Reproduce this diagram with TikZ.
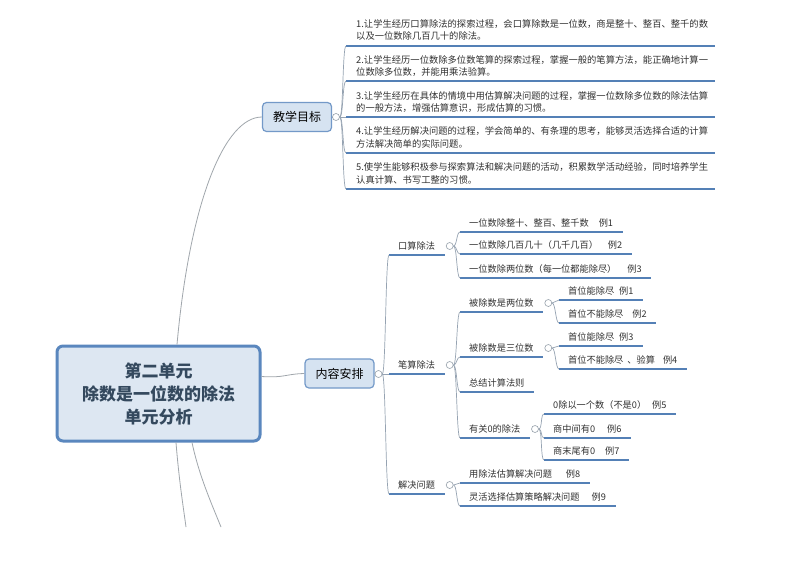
\documentclass[tikz,border=0pt]{standalone}
\usepackage{fontspec}
\setmainfont{Noto Sans CJK SC}
\usetikzlibrary{calc}
\definecolor{ulblue}{RGB}{84,128,182}
\definecolor{conncol}{RGB}{150,163,178}
\definecolor{maincol}{RGB}{160,166,172}
\definecolor{txt}{RGB}{50,50,50}
\definecolor{ctrtxt}{RGB}{52,73,94}
\definecolor{ctrfill}{RGB}{221,231,242}
\definecolor{ctrline}{RGB}{90,135,190}
\definecolor{subfill}{RGB}{214,227,241}
\definecolor{subline}{RGB}{115,153,200}
\definecolor{circcol}{RGB}{150,160,170}
\tikzset{
  ul/.style={draw=ulblue,line width=1.6pt},
  conn/.style={draw=conncol,line width=0.7pt},
  mainconn/.style={draw=maincol,line width=0.8pt},
  circ/.style={circle,draw=circcol,fill=white,line width=0.6pt,minimum size=7pt,inner sep=0pt},
  topic/.style={anchor=south west,inner sep=0pt,text height=7pt,text depth=5pt,
    font=\fontsize{9.2}{11}\selectfont,text=txt},
  item/.style={anchor=west,align=left,inner sep=0pt,font=\fontsize{9.3}{12.5}\selectfont,text=txt},
  subbox/.style={draw=subline,fill=subfill,line width=1.2pt,rounded corners=4pt,
    minimum width=69pt,minimum height=29pt,inner sep=0pt,font=\fontsize{12}{14}\selectfont,text={RGB:red,64;green,64;blue,64}},
  centerbox/.style={draw=ctrline,fill=ctrfill,line width=3pt,rounded corners=6pt,
    minimum width=203pt,minimum height=95pt,inner sep=0pt,align=center,
    font=\bfseries\fontsize{17}{23}\selectfont,text=ctrtxt}
}
\newcommand\mmtopic[4]{%
  \node[topic] (#1) at (#2,#3) {#4};
  \coordinate (#1-l) at ($(#1.south west)+(-9,0)$);
  \coordinate (#1-r) at ($(#1.south east)+(9.5,0)$);
  \draw[ul] (#1-l) -- (#1-r);
}
\newcommand\mmfold[1]{\node[circ] (#1-c) at ($(#1-r)+(5,-9)$) {};}
\newcommand\mmlink[2]{\draw[conn] (#1-c.east) .. controls +(3.5,0) and +(-3.5,0) .. (#2-l);}
\newcommand\mmitem[4]{%
  \node[item] (#1) at (356,#2) {#4};
  \coordinate (#1-l) at (346,#3);
  \coordinate (#1-r) at (715,#3);
  \draw[ul] (#1-l) -- (#1-r);
}
\begin{document}
\begin{tikzpicture}[x=1pt,y=-1pt]
\useasboundingbox[fill=white] (0,0) rectangle (800,566);

% central topic
\node[centerbox] (ctr) at (158.5,393.5) {第二单元\\除数是一位数的除法\\单元分析};

% main branches
\node[subbox] (jx) at (297,117) {教学目标};
\node[subbox] (nr) at (339.5,373.5) {内容安排};
\draw[mainconn] ($(ctr.north)+(18.5,0)$) .. controls (190,200) and (225,117) .. (jx.west);
\draw[mainconn] ($(ctr.north east)+(0,32)$) .. controls (285,378) and (285,374) .. (nr.west);
\coordinate (endA) at (186,527);
\coordinate (endB) at (221,527);
\draw[mainconn] ($(ctr.south)+(17.5,0)$) .. controls (179,480) and (183,505) .. (endA);
\draw[mainconn] ($(ctr.south)+(33.5,0)$) .. controls (199,475) and (210,500) .. (endB);

% 教学目标
\node[circ] (jx-c) at (336,117) {};
\draw[conn] (jx.east) -- (jx-c.west);
\mmitem{i1}{30}{46}{1.让学生经历口算除法的探索过程，会口算除数是一位数，商是整十、整百、整千的数\\以及一位数除几百几十的除法。}
\mmitem{i2}{66}{81}{2.让学生经历一位数除多位数笔算的探索过程，掌握一般的笔算方法，能正确地计算一\\位数除多位数，并能用乘法验算。}
\mmitem{i3}{102}{117}{3.让学生经历在具体的情境中用估算解决问题的过程，掌握一位数除多位数的除法估算\\的一般方法，增强估算意识，形成估算的习惯。}
\mmitem{i4}{137.5}{153}{4.让学生经历解决问题的过程，学会简单的、有条理的思考，能够灵活选择合适的计算\\方法解决简单的实际问题。}
\mmitem{i5}{173.5}{189}{5.使学生能够积极参与探索算法和解决问题的活动，积累数学活动经验，同时培养学生\\认真计算、书写工整的习惯。}
\mmlink{jx}{i1}\mmlink{jx}{i2}\mmlink{jx}{i3}\mmlink{jx}{i4}\mmlink{jx}{i5}

% 内容安排
\node[circ] (nr-c) at (378.5,374) {};
\draw[conn] (nr.east) -- (nr-c.west);
\mmtopic{k}{398}{255}{口算除法}
\mmtopic{b}{398}{374}{笔算除法}
\mmtopic{j}{398}{494}{解决问题}
\mmlink{nr}{k}\mmlink{nr}{b}\mmlink{nr}{j}

% 口算除法
\mmfold{k}
\mmtopic{k1}{469}{232}{一位数除整十、整百、整千数\hspace{10pt}例1}
\mmtopic{k2}{469}{254}{一位数除几百几十（几千几百）\hspace{10pt}例2}
\mmtopic{k3}{469}{278}{一位数除两位数（每一位都能除尽）\hspace{11pt}例3}
\mmlink{k}{k1}\mmlink{k}{k2}\mmlink{k}{k3}

% 笔算除法
\mmfold{b}
\mmtopic{b1}{469}{312}{被除数是两位数}
\mmtopic{b2}{469}{357}{被除数是三位数}
\mmtopic{b3}{469}{392}{总结计算法则}
\mmtopic{b4}{469}{438}{有关0的除法}
\mmlink{b}{b1}\mmlink{b}{b2}\mmlink{b}{b3}\mmlink{b}{b4}

\mmfold{b1}
\mmtopic{b11}{568}{300}{首位能除尽\hspace{5pt}例1}
\mmtopic{b12}{568}{323}{首位不能除尽\hspace{9pt}例2}
\mmlink{b1}{b11}\mmlink{b1}{b12}

\mmfold{b2}
\mmtopic{b21}{568}{346}{首位能除尽\hspace{5pt}例3}
\mmtopic{b22}{568}{369}{首位不能除尽\hspace{4pt}、验算\hspace{8pt}例4}
\mmlink{b2}{b21}\mmlink{b2}{b22}

\mmfold{b4}
\mmtopic{b41}{553}{414}{0除以一个数（不是0）\hspace{6pt}例5}
\mmtopic{b42}{553}{438}{商中间有0\hspace{12pt}例6}
\mmtopic{b43}{553}{460}{商末尾有0\hspace{10pt}例7}
\mmlink{b4}{b41}\mmlink{b4}{b42}\mmlink{b4}{b43}

% 解决问题
\mmfold{j}
\mmtopic{j1}{469}{483}{用除法估算解决问题\hspace{14pt}例8}
\mmtopic{j2}{469}{506}{灵活选择估算策略解决问题\hspace{12pt}例9}
\mmlink{j}{j1}\mmlink{j}{j2}
\end{tikzpicture}
\end{document}
